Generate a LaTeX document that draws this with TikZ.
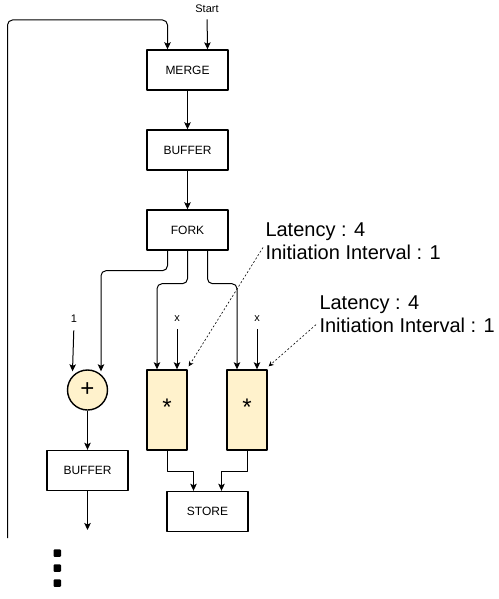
\documentclass[tikz,border=0pt]{standalone}
\usepackage{fontspec}
\setmainfont{Liberation Sans}
\usetikzlibrary{arrows.meta}
\definecolor{cream}{HTML}{FFF2CC}
\begin{document}
\begin{tikzpicture}[x=1pt,y=-1pt,>={Stealth[length=7pt,width=6.5pt,inset=1.5pt]},line join=round,line width=1pt,font=\fontsize{12}{14}\selectfont]
				\tikzset{
					blk/.style={draw,line width=1.4pt,minimum width=81pt,minimum height=40pt,inner sep=0pt},
					mulbox/.style={draw,fill=cream,line width=1.4pt,minimum width=40pt,minimum height=80pt,inner sep=0pt,font=\fontsize{24}{24}\selectfont},
					note/.style={anchor=north west,align=left,inner sep=0pt,font=\fontsize{20}{23}\selectfont},
					lbl/.style={inner sep=0pt,font=\fontsize{11}{13}\selectfont},
					conn/.style={->,rounded corners=5pt},
					hint/.style={->,line width=0.6pt,dash pattern=on 2pt off 2pt,>={Stealth[length=5pt,width=5pt]}}
				}
				\useasboundingbox (0,0) rectangle (498,599);
				% blocks
				\node[blk] (merge) at (187.5,70) {MERGE};
				\node[blk] (buf) at (187.5,150) {BUFFER};
				\node[blk] (fork) at (187.5,230) {FORK};
				\node[draw,circle,fill=cream,line width=1.4pt,minimum size=40pt,inner sep=0pt,font=\fontsize{24}{24}\selectfont] (add) at (87.5,390) {+};
				\node[mulbox] (mulA) at (167,410) {\raisebox{5pt}{*}};
				\node[mulbox] (mulB) at (247,410) {\raisebox{5pt}{*}};
				\node[blk] (bufB) at (87.5,470.5) {BUFFER};
				\node[blk] (store) at (207.5,511.5) {STORE};
				% inputs
				\node[lbl] (start) at (207,9) {Start};
				\node[lbl] (one) at (74,319) {1};
				\node[lbl] (xa) at (177,319) {x};
				\node[lbl] (xb) at (257,319) {x};
				\coordinate (back) at (7.5,538);
				\coordinate (top) at (7.5,20);
				\coordinate (more) at (87.5,530);
				% main chain
				\draw[->,shorten <=6pt] (start.south)--([xshift=20]merge.north);
				\draw[conn] (back)--(top)-|([xshift=-20]merge.north);
				\draw[->] (merge)--(buf);
				\draw[->] (buf)--(fork);
				\draw[conn] ([xshift=-20]fork.south)--++(0,20)-|([shift={(13.5,2)}]add.north);
				\draw[conn] (fork.south)--++(0,33)-|([xshift=-10]mulA.north);
				\draw[conn] ([xshift=20]fork.south)--++(0,33)-|([xshift=-10]mulB.north);
				\draw[->,shorten <=7pt] (one.south)--([shift={(-15,2)}]add.north);
				\foreach \m/\v in {mulA/xa,mulB/xb}{
					\draw[->,shorten <=7pt] (\v.south)--([xshift=10]\m.north);
				}
				\draw[->] (add)--(bufB);
				\draw[->] (bufB)--(more);
				\draw[->] (mulA.south)--++(0,21)-|([xshift=-14]store.north);
				\draw[->] (mulB.south)--++(0,21)-|([xshift=14]store.north);
				% notes
				\node[note] (latA) at (265,222.5) {Latency : 4\\Initiation Interval : 1};
				\node[note] (latB) at (319,295.7) {Latency : 4\\Initiation Interval : 1};
				\draw[hint] ([shift={(-2,6)}]latA.west)--([shift={(1,-3)}]mulA.north east);
				\draw[hint] ([shift={(-3,10)}]latB.west)--([shift={(1,-3)}]mulB.north east);
				% dots
				\foreach \y in {553,568,583}{
					\fill[rounded corners=1pt] (53.5,\y-3.75) rectangle ++(7.5,7.5);
				}
			\end{tikzpicture}
\end{document}
